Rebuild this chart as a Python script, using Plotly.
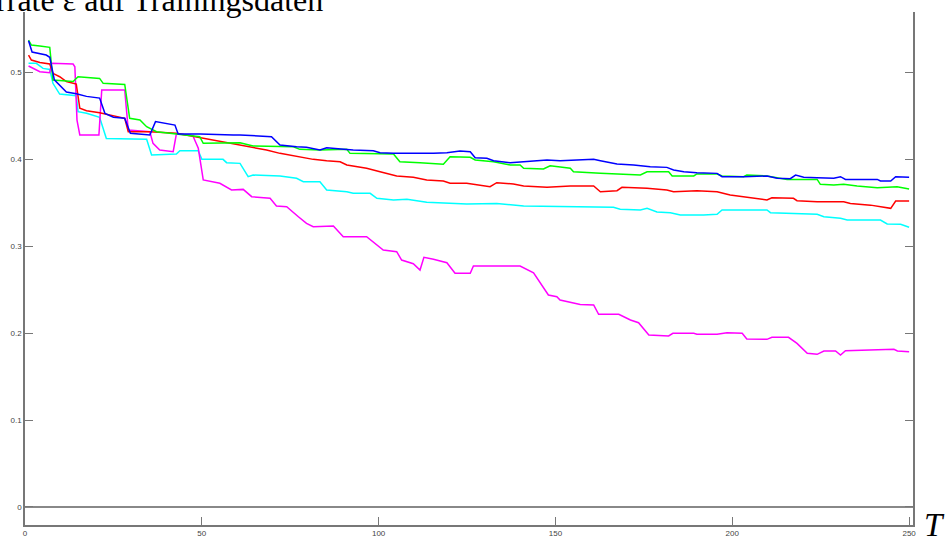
import plotly.graph_objects as go

# Data (x = T, y = error rate)
blue_pts = [(1,0.536),(2,0.523),(6,0.5195),(7,0.517),(8.3,0.491),(11.7,0.477),(14.5,0.475),(17.4,0.472),(21.1,0.470),(22.6,0.4525),(25,0.448),(28.2,0.447),(29.8,0.4295),(35.3,0.4276),(36.9,0.443),(39.1,0.4417),(42.4,0.439),(43.3,0.4287),(49.5,0.4287),(58.9,0.4276),(60.8,0.4276),(69.7,0.4257),(72.1,0.416),(76.8,0.414),(79.6,0.4134),(83.4,0.4103),(85.3,0.413),(91,0.411),(92.8,0.4103),(98.5,0.4096),(100.4,0.4073),(104.2,0.4065),(108,0.4065),(111.7,0.4057),(115.5,0.4065),(119.3,0.4073),(123,0.4092),(125.9,0.4084),(127.3,0.4015),(130.6,0.4008),(132.5,0.398),(137.2,0.3957),(141.9,0.3969),(147.6,0.3989),(151.3,0.398),(155.1,0.3989),(160.8,0.3996),(162.7,0.398),(167.4,0.3943),(172.1,0.3931),(176.8,0.3912),(181.5,0.3904),(183.4,0.3874),(186.3,0.3854),(190,0.3843),(195.7,0.3835),(197.1,0.3797),(203.2,0.3797),(209.8,0.3805),(212.7,0.3778),(216.4,0.3774),(217.9,0.3816),(220.2,0.379),(224,0.3786),(228.7,0.3778),(230.6,0.3797),(232,0.3766),(241,0.3766),(241.9,0.3747),(244.8,0.3747),(246.2,0.3797),(250,0.379)]

green_pts = [(1,0.5368),(1.8,0.531),(4.2,0.530),(7,0.5284),(7.9,0.4908),(13.6,0.489),(15,0.4946),(21.1,0.4927),(22.1,0.487),(28.2,0.4858),(29.6,0.4468),(32.5,0.4448),(34.4,0.4371),(37.2,0.4314),(42.8,0.4287),(49.4,0.4257),(50.4,0.418),(53.2,0.418),(60.8,0.4188),(64.5,0.415),(75.9,0.414),(77.7,0.4111),(83.4,0.4103),(91,0.4111),(91.9,0.4065),(104.2,0.4057),(106,0.3969),(111.7,0.3958),(118.3,0.3939),(120.2,0.4027),(125.9,0.402),(127.3,0.3989),(132.5,0.3969),(137.2,0.3931),(140,0.3931),(141,0.3893),(146.6,0.3885),(148.5,0.3923),(154.2,0.3893),(155.1,0.3854),(162.7,0.3835),(174,0.3816),(175.9,0.3854),(182,0.3854),(183,0.3805),(189.1,0.3805),(190,0.3828),(195.7,0.3828),(197.1,0.3805),(203.2,0.3797),(204.1,0.3816),(209.8,0.3805),(215.5,0.3766),(224,0.3766),(224.9,0.3709),(228.7,0.3701),(231.5,0.3709),(235.3,0.369),(241,0.367),(246.6,0.3682),(250,0.3655)]

red_pts = [(1,0.5195),(1.8,0.5138),(4.2,0.511),(7,0.5092),(7.9,0.4985),(9.8,0.4946),(11.7,0.489),(14.5,0.4862),(15.5,0.4583),(17.4,0.4556),(21.1,0.4532),(23.9,0.4506),(28.2,0.4468),(29.2,0.4314),(35.3,0.4314),(42.8,0.4295),(49.4,0.4245),(57,0.418),(62.7,0.414),(68.3,0.4103),(72.1,0.4065),(77.7,0.402),(81.5,0.3996),(85.3,0.398),(89.1,0.3969),(91,0.3931),(96.6,0.3893),(100.4,0.3854),(105.1,0.3805),(109.8,0.379),(113.6,0.3759),(118.3,0.3747),(120.2,0.3721),(124.9,0.3721),(131.5,0.3682),(133.4,0.3728),(138.1,0.3713),(141,0.369),(147.6,0.3675),(154.2,0.369),(160.8,0.369),(162.7,0.3624),(167.4,0.3636),(168.8,0.3675),(175.9,0.3663),(181.5,0.3644),(183.4,0.3624),(190,0.3636),(195.7,0.3624),(199.4,0.3586),(203.2,0.3567),(207,0.3548),(209.8,0.3529),(211.2,0.3555),(217.3,0.3548),(218.3,0.3521),(224,0.3509),(231.5,0.3509),(233.4,0.349),(239.1,0.347),(244.8,0.3433),(246.2,0.3517),(250,0.3517)]

cyan_pts = [(1,0.51),(3.2,0.51),(5.1,0.5042),(7,0.503),(7.9,0.487),(9.8,0.4747),(14.5,0.4728),(15,0.4544),(17.4,0.4525),(21.1,0.448),(23,0.4237),(34.4,0.4226),(35.8,0.4046),(42.8,0.4057),(43.8,0.4096),(49,0.4096),(50,0.3996),(56,0.3996),(57,0.3958),(60.8,0.395),(63.1,0.3797),(64.5,0.3816),(72.1,0.3805),(76.8,0.3778),(78.7,0.3739),(83.4,0.3739),(85.3,0.3644),(91,0.3624),(92.8,0.3606),(97.6,0.3606),(99.5,0.3548),(104.2,0.3529),(108,0.3537),(112.7,0.3509),(113.6,0.3502),(124.9,0.3483),(133.4,0.349),(141,0.346),(153.2,0.3452),(166.4,0.3445),(168.3,0.3422),(174,0.3414),(175.9,0.3433),(178.7,0.3392),(182.5,0.3383),(185.3,0.3356),(191.9,0.3356),(195.7,0.3364),(197.1,0.3414),(209.8,0.3414),(210.8,0.3383),(217.3,0.3376),(224,0.3364),(225.9,0.3337),(230.6,0.3318),(232.5,0.3299),(241.9,0.3299),(243.8,0.3253),(247.6,0.3249),(250,0.3215)]

magenta_pts = [(1,0.5069),(2.3,0.5042),(4.2,0.5004),(7,0.4992),(7.5,0.51),(13.6,0.5092),(14.1,0.5061),(14.7,0.4448),(15.5,0.4276),(20.9,0.4276),(21.7,0.4793),(28.2,0.4793),(29.2,0.4333),(35.3,0.4314),(36.2,0.418),(38.1,0.4103),(41.9,0.4084),(42.8,0.4287),(46.6,0.4276),(47.5,0.4264),(49,0.4123),(50.4,0.3759),(55.1,0.3721),(58.4,0.3644),(61.7,0.3651),(64.1,0.3567),(69.3,0.3548),(71.1,0.346),(74,0.3452),(77.3,0.3337),(79.6,0.326),(81.5,0.3222),(87.2,0.323),(90,0.3107),(96.6,0.3107),(101.3,0.2954),(105.1,0.2935),(106.5,0.2839),(109.8,0.2797),(111.7,0.2724),(112.8,0.287),(115.5,0.2847),(119.3,0.2808),(121.6,0.2686),(125.9,0.2686),(126.8,0.277),(140,0.277),(143.8,0.2693),(146.1,0.2552),(148,0.2437),(150.4,0.2417),(151.3,0.2379),(157,0.2329),(160.8,0.2322),(162.2,0.2215),(167.9,0.2215),(171.2,0.2149),(173.5,0.2118),(176.4,0.1977),(182,0.1966),(183.2,0.1996),(189.1,0.1996),(190,0.1985),(195.7,0.1985),(198.5,0.2004),(202.8,0.1996),(204.1,0.1931),(209.8,0.1927),(211.2,0.195),(215.9,0.195),(218.3,0.1881),(221.2,0.1766),(224,0.1755),(225.9,0.1793),(229.2,0.1793),(230.6,0.1747),(232,0.1797),(242.9,0.1805),(245.7,0.1812),(246.7,0.1793),(250,0.1785)]

x_ticks = [0, 50, 100, 150, 200, 250]
y_ticks = [0, 0.1, 0.2, 0.3, 0.4, 0.5]
y_tick_labels = ["0", "0.1", "0.2", "0.3", "0.4", "0.5"]
title_text = "Fehlerrate ε auf Trainingsdaten"
x_label = "T"

series = [
    ("cyan", cyan_pts, "#00FFFF"),
    ("magenta", magenta_pts, "#FF00FF"),
    ("red", red_pts, "#FF0000"),
    ("green", green_pts, "#00FF00"),
    ("blue", blue_pts, "#0000FF"),
]

fig = go.Figure()
for name, pts, col in series:
    fig.add_trace(go.Scatter(
        x=[p[0] for p in pts], y=[p[1] for p in pts],
        mode="lines", name=name, line=dict(color=col, width=1.5),
        showlegend=False, hoverinfo="skip"))

axis_col = "#777777"
fig.update_layout(
    width=947, height=537, autosize=False,
    margin=dict(l=25, r=34, t=12, b=12, pad=0),
    paper_bgcolor="white", plot_bgcolor="white",
    xaxis=dict(range=[0, 251.1], tickvals=x_ticks, ticktext=[str(v) for v in x_ticks],
               showgrid=False, zeroline=False, showline=True, linecolor=axis_col,
               linewidth=1.5, mirror=False, ticks="inside", ticklen=8,
               tickcolor=axis_col, tickwidth=1,
               tickfont=dict(family="Liberation Sans", size=8, color="#444444"),
               automargin=False),
    yaxis=dict(range=[-0.0207, 0.569], tickvals=y_ticks, ticktext=y_tick_labels,
               showgrid=False, zeroline=True, zerolinecolor="#888888", zerolinewidth=1.5,
               showline=True, linecolor=axis_col, linewidth=1.5, mirror="ticks",
               ticks="inside", ticklen=8, tickcolor=axis_col, tickwidth=1,
               tickfont=dict(family="Liberation Sans", size=8, color="#444444"),
               automargin=False),
    annotations=[
        dict(text=title_text, xref="paper", yref="paper", x=-0.1147, y=0.984,
             xanchor="left", yanchor="bottom", showarrow=False,
             font=dict(family="Liberation Serif", size=32, color="black")),
        dict(text="<i>" + x_label + "</i>", xref="paper", yref="paper", x=1.0101, y=0.0,
             xanchor="left", yanchor="middle", showarrow=False,
             font=dict(family="Liberation Serif", size=33, color="black")),
    ],
)

fig.write_html("out.html", config={"displayModeBar": False},
               post_script="document.body.style.margin='0';document.body.style.padding='0';")
